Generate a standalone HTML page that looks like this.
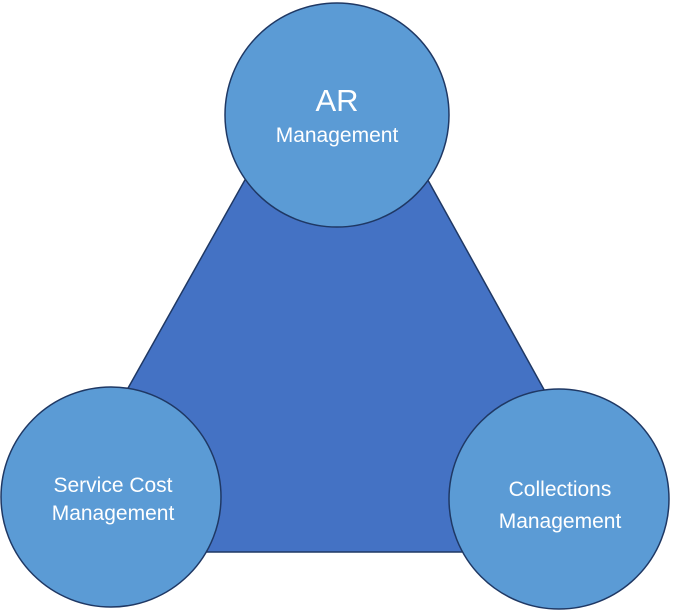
<!DOCTYPE html>
<html><head><meta charset="utf-8"><style>html,body{margin:0;padding:0;background:#fff}svg{display:block}</style></head>
<body>
<svg width="673" height="610" viewBox="0 0 673 610" xmlns="http://www.w3.org/2000/svg" font-family="Liberation Sans, sans-serif" fill="#fff">
<polygon points="337,16 36,552 634,552" fill="#4472C4" stroke="#1F3864" stroke-width="1.5"/>
<circle cx="337" cy="115" r="112" fill="#5B9BD5" stroke="#1F3864" stroke-width="1.5"/>
<circle cx="111" cy="497" r="110" fill="#5B9BD5" stroke="#1F3864" stroke-width="1.5"/>
<circle cx="559" cy="499" r="110" fill="#5B9BD5" stroke="#1F3864" stroke-width="1.5"/>
<text x="337" y="111" font-size="31" text-anchor="middle">AR</text>
<text x="337" y="142" font-size="21" text-anchor="middle">Management</text>
<text x="113" y="492" font-size="21" text-anchor="middle">Service Cost</text>
<text x="113" y="520" font-size="21" text-anchor="middle">Management</text>
<text x="560" y="496" font-size="21" text-anchor="middle">Collections</text>
<text x="560" y="528" font-size="21" text-anchor="middle">Management</text>
</svg>
</body></html>
